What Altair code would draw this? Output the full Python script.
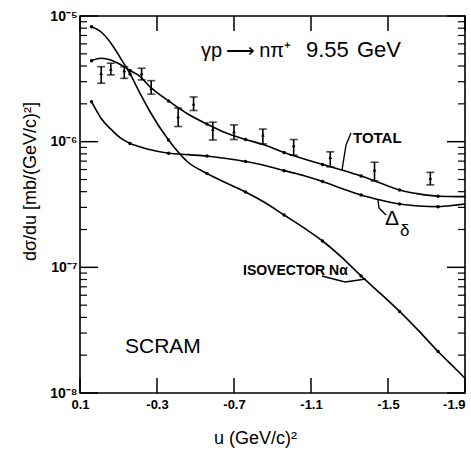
import altair as alt
import pandas as pd

# ---------------- data ----------------
u_grid = [0.04, -0.01, -0.06, -0.11, -0.16, -0.21, -0.26, -0.36, -0.46, -0.56, -0.66, -0.76,
          -0.86, -0.96, -1.06, -1.16, -1.26, -1.36, -1.46, -1.56, -1.66, -1.76, -1.86, -1.90]
total = [4.41e-6, 4.61e-6, 4.47e-6, 4.11e-6, 3.68e-6, 3.33e-6, 2.77e-6, 2.11e-6, 1.66e-6, 1.38e-6,
         1.17e-6, 1.04e-6, 9.41e-7, 8.20e-7, 7.32e-7, 6.58e-7, 5.95e-7, 5.33e-7, 4.69e-7, 4.13e-7,
         3.84e-7, 3.68e-7, 3.65e-7, 3.65e-7]
delta = [2.08e-6, 1.53e-6, 1.26e-6, 1.07e-6, 9.67e-7, 9.11e-7, 8.67e-7, 8.09e-7, 7.88e-7, 7.69e-7,
         7.35e-7, 6.95e-7, 6.47e-7, 5.88e-7, 5.38e-7, 4.82e-7, 4.24e-7, 3.77e-7, 3.44e-7, 3.19e-7,
         3.08e-7, 3.04e-7, 3.14e-7, 3.19e-7]
isovector = [8.22e-6, 7.46e-6, 6.10e-6, 4.63e-6, 3.46e-6, 2.46e-6, 1.77e-6, 1.03e-6, 6.89e-7, 5.58e-7,
             4.69e-7, 3.98e-7, 3.28e-7, 2.61e-7, 2.08e-7, 1.62e-7, 1.20e-7, 8.54e-8, 6.20e-8, 4.46e-8,
             3.12e-8, 2.14e-8, 1.51e-8, 1.31e-8]
marker_u = [0.04, -0.16, -0.36, -0.56, -0.76, -0.96, -1.16, -1.36, -1.56, -1.76]

pt_u = [-0.01, -0.06, -0.13, -0.22, -0.27, -0.41, -0.49, -0.59, -0.70, -0.85, -1.01, -1.20, -1.43, -1.72]
pt_val = [3.50e-6, 3.77e-6, 3.67e-6, 3.50e-6, 2.66e-6, 1.58e-6, 2.00e-6, 1.26e-6, 1.20e-6, 1.13e-6,
          9.3e-7, 7.5e-7, 5.96e-7, 5.12e-7]
pt_lo = [2.92e-6, 3.40e-6, 3.19e-6, 3.10e-6, 2.39e-6, 1.32e-6, 1.77e-6, 1.03e-6, 1.04e-6, 9.6e-7,
         7.8e-7, 6.3e-7, 4.87e-7, 4.53e-7]
pt_hi = [3.95e-6, 4.21e-6, 3.95e-6, 3.84e-6, 3.06e-6, 1.85e-6, 2.27e-6, 1.43e-6, 1.36e-6, 1.26e-6,
         1.04e-6, 8.3e-7, 6.86e-7, 5.7e-7]

x_ticks = [0.1, -0.3, -0.7, -1.1, -1.5, -1.9]
y_major = [1e-8, 1e-7, 1e-6, 1e-5]
y_minor = [m * 10.0 ** e for e in (-8, -7, -6) for m in range(2, 10)]

W, H = 385, 377
FONT = "Liberation Sans"

# ---------------- tables ----------------
curves = pd.concat([
    pd.DataFrame({"u": u_grid, "v": total, "s": "total"}),
    pd.DataFrame({"u": u_grid, "v": delta, "s": "delta"}),
    pd.DataFrame({"u": u_grid, "v": isovector, "s": "iso"}),
])
markers = curves[curves["u"].isin(marker_u)]
pts = pd.DataFrame({"u": pt_u, "v": pt_val, "lo": pt_lo, "hi": pt_hi})

xscale = alt.Scale(domain=[-1.9, 0.1], reverse=True, nice=False, zero=False)
yscale = alt.Scale(type="log", domain=[1e-8, 1e-5], nice=False)

xaxis = alt.Axis(values=x_ticks, ticks=False, domain=False, grid=False,
                 labelExpr="replace(format(datum.value, '.1f'), '−', '-')",
                 labelAlign={"condition": {"test": "datum.value < -1.8", "value": "right"}, "value": "center"},
                 labelFlush=False, labelOverlap=False, labelPadding=5,
                 labelFont=FONT, labelFontWeight="bold", labelFontSize=13, labelColor="black",
                 title="u (GeV/c)²", titleFont=FONT, titleFontSize=18, titleFontWeight="normal",
                 titleX=175, titleY=50, titleBaseline="alphabetic", titleColor="black")
yaxis = alt.Axis(values=y_major, ticks=False, domain=False, grid=False,
                 labelExpr="['10⁻⁸','10⁻⁷','10⁻⁶','10⁻⁵'][round(log(datum.value)/LN10)+8]",
                 labelFlush=False, labelOverlap=False, labelPadding=3,
                 labelFont=FONT, labelFontWeight="bold", labelFontSize=14, labelColor="black",
                 title="dσ/du  [mb/(GeV/c)²]", titleFont=FONT, titleFontSize=18,
                 titleFontWeight="normal", titleAngle=-90, titleX=-50, titleY=165,
                 titleAlign="center", titleBaseline="middle", titleColor="black")

X = lambda f="u": alt.X(f"{f}:Q", scale=xscale, axis=xaxis)
Y = lambda f="v": alt.Y(f"{f}:Q", scale=yscale, axis=yaxis)

lines = alt.Chart(curves).mark_line(color="black", strokeWidth=1.6, interpolate="monotone").encode(
    x=X(), y=Y(), detail="s:N")
dots = alt.Chart(markers).mark_point(filled=True, color="black", size=12, opacity=1).encode(x=X(), y=Y())

bars = alt.Chart(pts).mark_rule(color="black", strokeWidth=1.6).encode(x=X(), y=Y("lo"), y2="hi:Q")
cap_lo = alt.Chart(pts).mark_tick(color="black", orient="horizontal", size=8, thickness=1.6).encode(x=X(), y=Y("lo"))
cap_hi = alt.Chart(pts).mark_tick(color="black", orient="horizontal", size=8, thickness=1.6).encode(x=X(), y=Y("hi"))
centers = alt.Chart(pts).mark_point(filled=True, color="black", size=14, shape="triangle-up", opacity=1).encode(x=X(), y=Y())

xt = pd.DataFrame({"u": x_ticks})
xt_bot = alt.Chart(xt).mark_rule(color="black", strokeWidth=1.5).encode(x=X(), y=alt.value(H), y2=alt.value(H - 15))
xt_top = alt.Chart(xt).mark_rule(color="black", strokeWidth=1.5).encode(x=X(), y=alt.value(0), y2=alt.value(15))

ymj = pd.DataFrame({"v": y_major})
ymn = pd.DataFrame({"v": y_minor})
yt = [
    alt.Chart(ymj).mark_rule(color="black", strokeWidth=1.5).encode(y=Y(), x=alt.value(0), x2=alt.value(18)),
    alt.Chart(ymj).mark_rule(color="black", strokeWidth=1.5).encode(y=Y(), x=alt.value(W), x2=alt.value(W - 18)),
    alt.Chart(ymn).mark_rule(color="black", strokeWidth=1.2).encode(y=Y(), x=alt.value(0), x2=alt.value(7)),
    alt.Chart(ymn).mark_rule(color="black", strokeWidth=1.2).encode(y=Y(), x=alt.value(W), x2=alt.value(W - 7)),
]


def label(txt, x, y, size, weight="normal", font=FONT):
    return alt.Chart(pd.DataFrame({"t": [txt]})).mark_text(
        align="left", baseline="alphabetic", fontSize=size, fontWeight=weight, font=font, color="black"
    ).encode(text="t:N", x=alt.value(x), y=alt.value(y))


def seg(x1, y1, x2, y2):
    return alt.Chart(pd.DataFrame({"k": [0]})).mark_rule(color="black", strokeWidth=1.4).encode(
        x=alt.value(x1), y=alt.value(y1), x2=alt.value(x2), y2=alt.value(y2))


texts = [
    label("γp\u2009⟶\u2009nπ⁺", 121, 41, 20),
    label("9.55", 226, 41, 22),
    label("GeV", 277, 41, 22),
    label("TOTAL", 273, 127, 15, "bold"),
    label("Δ", 305, 209, 21),
    label("δ", 320, 220, 17),
    label("ISOVECTOR Nα", 163, 259, 14, "bold"),
    label("SCRAM", 45, 337, 21),
]
pointers = [
    seg(271, 117, 266, 129), seg(266, 129, 262, 154),
    seg(298, 184, 299, 192), seg(299, 192, 306, 199),
    seg(242, 260, 265, 266), seg(265, 266, 286, 263),
]

chart = alt.layer(
    lines, dots, bars, cap_lo, cap_hi, centers, xt_bot, xt_top, *yt, *texts, *pointers
).properties(
    width=W, height=H,
    autosize=alt.AutoSizeParams(type="none"),
    padding={"left": 80, "top": 16, "right": 6, "bottom": 61},
    background="white",
).configure_view(stroke="black", strokeWidth=1.6)

chart.save("out.html", embed_options={"renderer": "svg", "actions": False})
